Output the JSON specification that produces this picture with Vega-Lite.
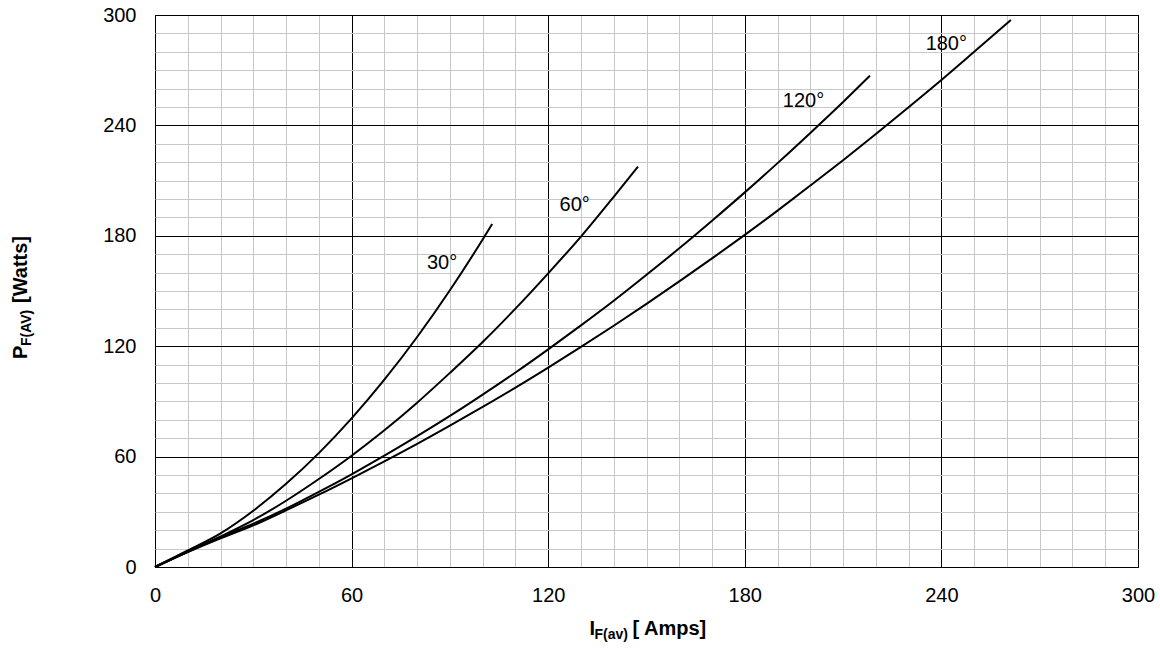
{
  "$schema": "https://vega.github.io/schema/vega-lite/v6.json",
  "width": 983,
  "height": 552,
  "autosize": {"type": "none"},
  "padding": {"left": 155, "top": 15, "right": 22, "bottom": 83},
  "background": "white",
  "config": {
    "view": {"stroke": "#000000", "strokeWidth": 1},
    "font": "Liberation Sans",
    "text": {"font": "Liberation Sans", "color": "#000000"}
  },
  "datasets": {
    "curves": [
      {"angle": "30°", "I": 0, "P": 0}, {"angle": "30°", "I": 10, "P": 9}, {"angle": "30°", "I": 20, "P": 18.3},
      {"angle": "30°", "I": 30, "P": 30.6}, {"angle": "30°", "I": 40, "P": 45.2}, {"angle": "30°", "I": 50, "P": 61.9},
      {"angle": "30°", "I": 60, "P": 80.8}, {"angle": "30°", "I": 70, "P": 101.8}, {"angle": "30°", "I": 80, "P": 125},
      {"angle": "30°", "I": 90, "P": 150.4}, {"angle": "30°", "I": 100, "P": 178}, {"angle": "30°", "I": 102.9, "P": 186.4},

      {"angle": "60°", "I": 0, "P": 0}, {"angle": "60°", "I": 10, "P": 8.4}, {"angle": "60°", "I": 20, "P": 16.6},
      {"angle": "60°", "I": 30, "P": 25.5}, {"angle": "60°", "I": 40, "P": 36}, {"angle": "60°", "I": 50, "P": 47.8},
      {"angle": "60°", "I": 60, "P": 60.5}, {"angle": "60°", "I": 70, "P": 74.3}, {"angle": "60°", "I": 80, "P": 89.3},
      {"angle": "60°", "I": 90, "P": 105.5}, {"angle": "60°", "I": 100, "P": 122.3}, {"angle": "60°", "I": 110, "P": 140.4},
      {"angle": "60°", "I": 120, "P": 159.6}, {"angle": "60°", "I": 130, "P": 179.6}, {"angle": "60°", "I": 140, "P": 201.2},
      {"angle": "60°", "I": 147.4, "P": 217.6},

      {"angle": "120°", "I": 0, "P": 0}, {"angle": "120°", "I": 10, "P": 8.3}, {"angle": "120°", "I": 20, "P": 16.2},
      {"angle": "120°", "I": 30, "P": 23.5}, {"angle": "120°", "I": 40, "P": 31.7}, {"angle": "120°", "I": 50, "P": 40.8},
      {"angle": "120°", "I": 60, "P": 50.4}, {"angle": "120°", "I": 70, "P": 60.5}, {"angle": "120°", "I": 80, "P": 71.1},
      {"angle": "120°", "I": 90, "P": 82.1}, {"angle": "120°", "I": 100, "P": 93.7}, {"angle": "120°", "I": 110, "P": 105.7},
      {"angle": "120°", "I": 120, "P": 118.3}, {"angle": "120°", "I": 130, "P": 131.3}, {"angle": "120°", "I": 140, "P": 144.7},
      {"angle": "120°", "I": 150, "P": 158.8}, {"angle": "120°", "I": 160, "P": 173.2}, {"angle": "120°", "I": 170, "P": 188.2},
      {"angle": "120°", "I": 180, "P": 203.6}, {"angle": "120°", "I": 190, "P": 219.5}, {"angle": "120°", "I": 200, "P": 235.9},
      {"angle": "120°", "I": 210, "P": 252.7}, {"angle": "120°", "I": 218.2, "P": 267},

      {"angle": "180°", "I": 0, "P": 0}, {"angle": "180°", "I": 10, "P": 8.1}, {"angle": "180°", "I": 20, "P": 15.6},
      {"angle": "180°", "I": 30, "P": 22.6}, {"angle": "180°", "I": 40, "P": 30.8}, {"angle": "180°", "I": 50, "P": 39.3},
      {"angle": "180°", "I": 60, "P": 48.2}, {"angle": "180°", "I": 70, "P": 57.4}, {"angle": "180°", "I": 80, "P": 66.9},
      {"angle": "180°", "I": 90, "P": 76.8}, {"angle": "180°", "I": 100, "P": 87}, {"angle": "180°", "I": 110, "P": 97.5},
      {"angle": "180°", "I": 120, "P": 108.4}, {"angle": "180°", "I": 130, "P": 119.6}, {"angle": "180°", "I": 140, "P": 131.1},
      {"angle": "180°", "I": 150, "P": 143}, {"angle": "180°", "I": 160, "P": 155.2}, {"angle": "180°", "I": 170, "P": 167.7},
      {"angle": "180°", "I": 180, "P": 180.5}, {"angle": "180°", "I": 190, "P": 193.7}, {"angle": "180°", "I": 200, "P": 207.3},
      {"angle": "180°", "I": 210, "P": 221.1}, {"angle": "180°", "I": 220, "P": 235.3}, {"angle": "180°", "I": 230, "P": 249.9},
      {"angle": "180°", "I": 240, "P": 264.7}, {"angle": "180°", "I": 250, "P": 280}, {"angle": "180°", "I": 261.2, "P": 297.3}
    ],
    "labels": [
      {"angle": "30°", "I": 87.6, "P": 165.2},
      {"angle": "60°", "I": 128.1, "P": 196.6},
      {"angle": "120°", "I": 197.9, "P": 253.1},
      {"angle": "180°", "I": 241.5, "P": 284.3}
    ]
  },
  "encoding": {
    "x": {
      "field": "I", "type": "quantitative",
      "scale": {"domain": [0, 300], "nice": false, "zero": false},
      "axis": {
        "title": null,
        "values": [0,10,20,30,40,50,60,70,80,90,100,110,120,130,140,150,160,170,180,190,200,210,220,230,240,250,260,270,280,290,300],
        "labelExpr": "datum.value % 60 === 0 ? datum.label : ''",
        "ticks": false, "domain": false,
        "labelFont": "Liberation Sans", "labelFontSize": 20, "labelColor": "#000000",
        "labelPadding": 18, "labelOverlap": false, "labelFlush": false,
        "gridColor": {"condition": {"test": "datum.value % 60 === 0", "value": "#000000"}, "value": "#c8c8c8"},
        "gridWidth": 1, "gridOpacity": 1
      }
    },
    "y": {
      "field": "P", "type": "quantitative",
      "scale": {"domain": [0, 300], "nice": false, "zero": false},
      "axis": {
        "title": null,
        "values": [0,10,20,30,40,50,60,70,80,90,100,110,120,130,140,150,160,170,180,190,200,210,220,230,240,250,260,270,280,290,300],
        "labelExpr": "datum.value % 60 === 0 ? datum.label : ''",
        "ticks": false, "domain": false,
        "labelFont": "Liberation Sans", "labelFontSize": 20, "labelColor": "#000000",
        "labelPadding": 19, "labelOverlap": false, "labelFlush": false,
        "gridColor": {"condition": {"test": "datum.value % 60 === 0", "value": "#000000"}, "value": "#c8c8c8"},
        "gridWidth": 1, "gridOpacity": 1
      }
    }
  },
  "layer": [
    {
      "data": {"name": "curves"},
      "mark": {"type": "line", "color": "#000000", "strokeWidth": 2, "interpolate": "monotone"},
      "encoding": {"detail": {"field": "angle"}}
    },
    {
      "data": {"name": "labels"},
      "mark": {"type": "text", "fontSize": 20, "font": "Liberation Sans", "color": "#000000", "align": "center", "baseline": "middle"},
      "encoding": {"text": {"field": "angle"}}
    },
    {
      "data": {"values": [{"I": 150, "P": 0}]},
      "layer": [
        {"mark": {"type": "text", "text": "I", "fontSize": 20, "fontWeight": "bold", "align": "left", "baseline": "alphabetic", "dx": -57, "dy": 68, "clip": false}},
        {"mark": {"type": "text", "text": "F(av)", "fontSize": 14, "fontWeight": "bold", "align": "left", "baseline": "alphabetic", "dx": -52, "dy": 72, "clip": false}},
        {"mark": {"type": "text", "text": "[ Amps]", "fontSize": 20, "fontWeight": "bold", "align": "left", "baseline": "alphabetic", "dx": -14, "dy": 68, "clip": false}}
      ]
    },
    {
      "data": {"values": [{"I": 0, "P": 150}]},
      "layer": [
        {"mark": {"type": "text", "text": "P", "angle": 270, "fontSize": 20, "fontWeight": "bold", "align": "left", "baseline": "alphabetic", "dx": -68, "dy": -128, "clip": false}},
        {"mark": {"type": "text", "text": "F(AV)", "angle": 270, "fontSize": 14, "fontWeight": "bold", "align": "left", "baseline": "alphabetic", "dx": -55, "dy": -124, "clip": false}},
        {"mark": {"type": "text", "text": "[Watts]", "angle": 270, "fontSize": 20, "fontWeight": "bold", "align": "left", "baseline": "alphabetic", "dx": -12, "dy": -128, "clip": false}}
      ]
    }
  ]
}
